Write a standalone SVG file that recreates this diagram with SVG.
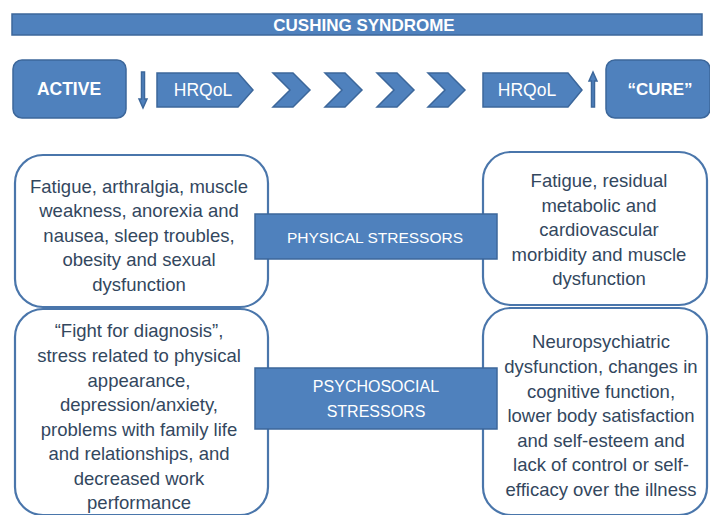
<svg xmlns="http://www.w3.org/2000/svg" width="710" height="515" viewBox="0 0 710 515">
<style>
.blue{fill:#4f81bd;stroke:#3c679b;stroke-width:1.5}
.box{fill:#ffffff;stroke:#4a76ab;stroke-width:2.2}
.wt{font-family:"Liberation Sans",Arial,sans-serif;fill:#ffffff;text-anchor:middle;dominant-baseline:central}
.b{font-weight:bold}
.bt{font-family:"Liberation Sans",Arial,sans-serif;fill:#33475e;text-anchor:middle;font-size:18.5px;dominant-baseline:central}
</style>
<rect width="710" height="515" fill="#ffffff"/>
<g id="title">
<rect class="blue" x="12" y="14" width="690" height="21"/>
<text class="wt b" x="364" y="25" font-size="17">CUSHING SYNDROME</text>
</g>
<g id="active">
<rect class="blue" x="13" y="60" width="113" height="58" rx="9"/>
<text class="wt b" x="69" y="89" font-size="17.5">ACTIVE</text>
</g>
<g id="cure">
<rect class="blue" x="606" y="60" width="104" height="58" rx="9"/>
<text class="wt b" x="660" y="89" font-size="17">“CURE”</text>
</g>
<g id="connectors">
<polygon class="blue" points="141.5,72 144.5,72 144.5,99 147,99 143,108 139,99 141.5,99"/>
<polygon class="blue" points="591.5,107 594.5,107 594.5,81 597,81 593,72 589,81 591.5,81"/>
<polygon class="blue" points="273,73 293,73 310,90 293,107 273,107 290,90"/>
<polygon class="blue" points="325,73 345,73 362,90 345,107 325,107 342,90"/>
<polygon class="blue" points="377,73 397,73 414,90 397,107 377,107 394,90"/>
<polygon class="blue" points="428,73 448,73 465,90 448,107 428,107 445,90"/>
</g>
<g id="hrqol-low">
<polygon class="blue" points="157,73 238,73 253,90 238,107 157,107"/>
<text class="wt" x="203" y="90" font-size="17.5">HRQoL</text>
</g>
<g id="hrqol-high">
<polygon class="blue" points="483,73 568,73 582,90 568,107 483,107"/>
<text class="wt" x="527" y="90" font-size="17.5">HRQoL</text>
</g>
<g id="phys-active">
<rect class="box" x="15" y="155" width="253" height="152" rx="28"/>
<text class="bt" x="139" y="186">Fatigue, arthralgia, muscle</text>
<text class="bt" x="139" y="210">weakness, anorexia and</text>
<text class="bt" x="139" y="235">nausea, sleep troubles,</text>
<text class="bt" x="139" y="259">obesity and sexual</text>
<text class="bt" x="139" y="284">dysfunction</text>
</g>
<g id="phys-cure">
<rect class="box" x="483" y="152" width="224" height="153" rx="28"/>
<text class="bt" x="599" y="180">Fatigue, residual</text>
<text class="bt" x="599" y="205">metabolic and</text>
<text class="bt" x="599" y="229">cardiovascular</text>
<text class="bt" x="599" y="254">morbidity and muscle</text>
<text class="bt" x="599" y="278">dysfunction</text>
</g>
<g id="psych-active">
<rect class="box" x="15" y="309" width="253" height="206" rx="28"/>
<text class="bt" x="139" y="330">“Fight for diagnosis”,</text>
<text class="bt" x="139" y="355">stress related to physical</text>
<text class="bt" x="139" y="380">appearance,</text>
<text class="bt" x="139" y="404">depression/anxiety,</text>
<text class="bt" x="139" y="429">problems with family life</text>
<text class="bt" x="139" y="453">and relationships, and</text>
<text class="bt" x="139" y="478">decreased work</text>
<text class="bt" x="139" y="502">performance</text>
</g>
<g id="psych-cure">
<rect class="box" x="483" y="308" width="224" height="207" rx="28"/>
<text class="bt" x="601" y="341">Neuropsychiatric</text>
<text class="bt" x="601" y="366">dysfunction, changes in</text>
<text class="bt" x="601" y="391">cognitive function,</text>
<text class="bt" x="601" y="415">lower body satisfaction</text>
<text class="bt" x="601" y="440">and self-esteem and</text>
<text class="bt" x="601" y="464">lack of control or self-</text>
<text class="bt" x="601" y="489">efficacy over the illness</text>
</g>
<g id="physical-stressors">
<rect class="blue" x="255" y="214" width="242" height="45"/>
<text class="wt" x="375" y="237" font-size="15.5">PHYSICAL STRESSORS</text>
</g>
<g id="psychosocial-stressors">
<rect class="blue" x="255" y="368" width="242" height="61"/>
<text class="wt" x="376" y="386" font-size="16">PSYCHOSOCIAL</text>
<text class="wt" x="376" y="411" font-size="16">STRESSORS</text>
</g>
</svg>
